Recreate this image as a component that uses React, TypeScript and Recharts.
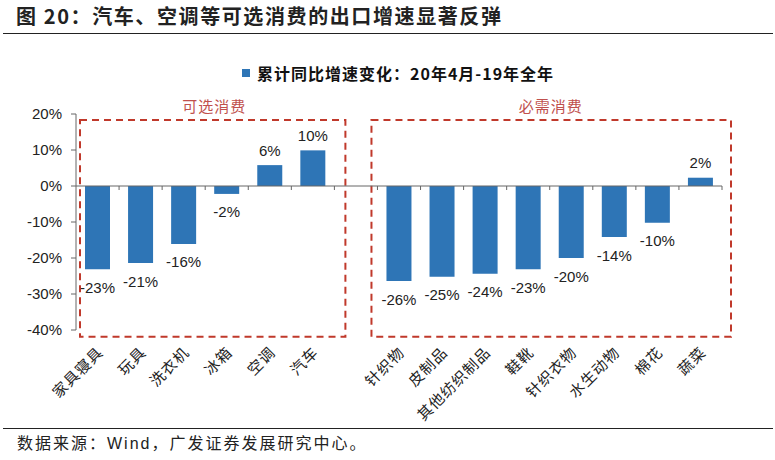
import React from 'react';
import {
  BarChart,
  Bar,
  XAxis,
  YAxis,
  Legend,
  LabelList,
  ReferenceArea,
  ReferenceLine,
} from 'recharts';

// categories (blank slot separates the two groups, as in the source chart)
const categories = [
  '家具寝具', '玩具', '洗衣机', '冰箱', '空调', '汽车', '',
  '针织物', '皮制品', '其他纺织制品', '鞋靴', '针织衣物', '水生动物', '棉花', '蔬菜',
];
// cumulative yoy change, 20年4月 vs 19年全年 (%)
const growth = [
  -23.1, -21.4, -16.1, -2.2, 5.8, 9.9, null,
  -26.4, -25.2, -24.4, -23.1, -20.0, -14.2, -10.2, 2.3,
];
const yTicks = [20, 10, 0, -10, -20, -30, -40];

const seriesName = '累计同比增速变化：20年4月-19年全年';
const BLUE = '#2e75b6';
const RED = '#c0392b';
const SANS = '"Liberation Sans", Arial, sans-serif';
const CJK = '"Noto Sans CJK SC", "Noto Sans", sans-serif';

const data = categories.map((name, i) => ({ name, value: growth[i] }));

const XTick = (props: any) => {
  const { x, y, payload } = props;
  if (!payload.value) return null;
  return (
    <g transform={`translate(${x + 3},${y + 12})`}>
      <text
        transform="rotate(-45)"
        textAnchor="end"
        fontSize={15}
        letterSpacing={1}
        fontFamily={CJK}
        fill="#222"
        dy={5}
      >
        {payload.value}
      </text>
    </g>
  );
};

const ValueLabel = (props: any) => {
  const { x, y, width, height, value } = props;
  if (value === null || value === undefined) return null;
  const top = Math.min(y, y + height);
  const bottom = Math.max(y, y + height);
  const ty = value < 0 ? bottom + 18 : top - 15;
  return (
    <text
      x={x + width / 2}
      y={ty}
      textAnchor="middle"
      dominantBaseline="central"
      fontSize={15}
      fontFamily={SANS}
      fill="#222"
    >
      {`${Math.round(value)}%`}
    </text>
  );
};

// dashed group box, nudged a little past the band edges
const makeBox = (dl: number, dr: number) => (props: any) => {
  const { x, y, width, height } = props;
  return (
    <rect
      x={x + dl}
      y={y}
      width={width - dl + dr}
      height={height}
      fill="none"
      stroke={RED}
      strokeWidth={2}
      strokeDasharray="7 5"
    />
  );
};

const makeBoxLabel = (text: string, dx: number) => (props: any) => {
  const vb = props.viewBox || {};
  return (
    <text
      x={vb.x + vb.width / 2 + dx}
      y={vb.y - 15}
      textAnchor="middle"
      dominantBaseline="central"
      fontSize={15}
      letterSpacing={1}
      fontFamily={CJK}
      fill="#c0504d"
    >
      {text}
    </text>
  );
};

const ZeroLine = (props: any) => {
  const { x1, x2, y1 } = props;
  const n = categories.length;
  const step = (x2 - x1) / n;
  return (
    <g>
      <line x1={x1} x2={x2} y1={y1} y2={y1} stroke="#666" strokeWidth={1} />
      {categories.map((_, i) => (
        <line
          key={i}
          x1={x1 + step * (i + 1)}
          x2={x1 + step * (i + 1)}
          y1={y1}
          y2={y1 + 4}
          stroke="#666"
        />
      ))}
    </g>
  );
};

const LegendContent = () => (
  <div style={{ display: 'flex', alignItems: 'center', whiteSpace: 'nowrap' }}>
    <span style={{ width: 8, height: 8, background: BLUE, display: 'inline-block', marginRight: 7 }} />
    <span style={{ fontFamily: CJK, fontWeight: 700, fontSize: 16, letterSpacing: 1, color: '#111' }}>
      {seriesName}
    </span>
  </div>
);

export default function App() {
  return (
    <div style={{ position: 'absolute', left: 0, top: 0, width: 775, height: 460, background: '#fff' }}>
      <div
        style={{
          position: 'absolute', left: 16, top: 2, fontFamily: CJK, fontWeight: 700,
          fontSize: 20, letterSpacing: 1.6, color: '#222', whiteSpace: 'nowrap', lineHeight: '28px',
        }}
      >
        图 20：汽车、空调等可选消费的出口增速显著反弹
      </div>
      <div style={{ position: 'absolute', left: 3, top: 33, width: 770, height: 0, borderTop: '1.5px solid #222' }} />

      <BarChart
        width={775}
        height={460}
        data={data}
        margin={{ top: 114, right: 53, bottom: 40, left: 0 }}
        barSize={25}
      >
        <XAxis
          dataKey="name"
          interval={0}
          axisLine={false}
          tickLine={false}
          height={90}
          tick={<XTick />}
        />
        <YAxis
          domain={[-40, 20]}
          ticks={yTicks}
          width={76}
          tickSize={5}
          tickMargin={9}
          stroke="#666"
          tickFormatter={(v: number) => `${v}%`}
          tick={{ fontSize: 15, fontFamily: SANS, fill: '#222' }}
        />
        <Legend
          layout="horizontal"
          align="center"
          verticalAlign="middle"
          wrapperStyle={{ top: 61, left: 242, width: 'auto' }}
          content={<LegendContent />}
        />
        <ReferenceArea
          x1="家具寝具"
          x2="汽车"
          y1={-41.9}
          y2={18.3}
          ifOverflow="visible"
          shape={makeBox(4, 11)}
          label={makeBoxLabel('可选消费', 9)}
        />
        <ReferenceArea
          x1="针织物"
          x2="蔬菜"
          y1={-41.9}
          y2={18.3}
          ifOverflow="visible"
          shape={makeBox(-6, 9)}
          label={makeBoxLabel('必需消费', 1)}
        />
        <Bar dataKey="value" name={seriesName} fill={BLUE} isAnimationActive={false}>
          <LabelList dataKey="value" content={<ValueLabel />} />
        </Bar>
        <ReferenceLine y={0} shape={<ZeroLine />} />
      </BarChart>

      <div style={{ position: 'absolute', left: 3, top: 428, width: 770, height: 0, borderTop: '1.5px solid #222' }} />
      <div
        style={{
          position: 'absolute', left: 17, top: 431, fontFamily: CJK, fontSize: 16, letterSpacing: 2,
          color: '#222', whiteSpace: 'nowrap', lineHeight: '22px',
        }}
      >
        数据来源：<span style={{ fontFamily: SANS }}>Wind</span>，广发证券发展研究中心。
      </div>
    </div>
  );
}
